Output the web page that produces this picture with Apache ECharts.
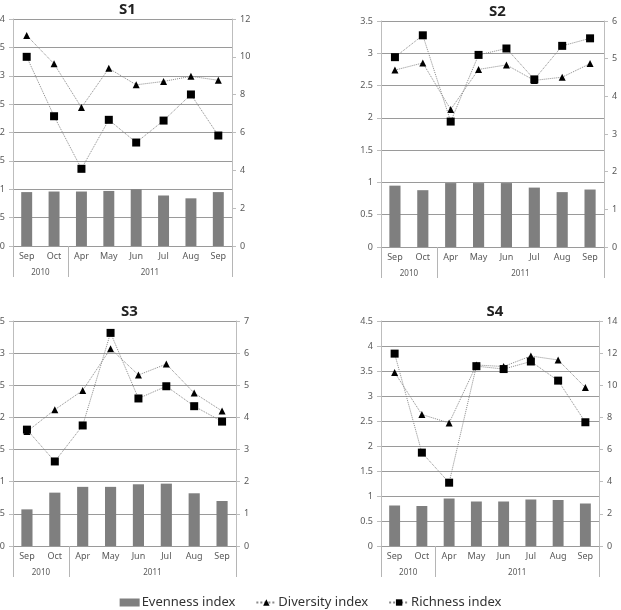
<!DOCTYPE html>
<html>
<head>
<meta charset="utf-8">
<script src="https://cdn.jsdelivr.net/npm/echarts@6/dist/echarts.min.js"></script>
<style>
  html, body { margin: 0; padding: 0; background: #fff; }
  #chart { width: 621px; height: 610px; }
</style>
</head>
<body>
<div id="chart"></div>
<script>
// categories
const months = ['Sep', 'Oct', 'Apr', 'May', 'Jun', 'Jul', 'Aug', 'Sep']
const years = ['2010', '2011']
const yearSpans = [2, 6]

// panels
const siteNames = ['S1', 'S2', 'S3', 'S4']

const evennessS1 = [0.95, 0.96, 0.96, 0.97, 1.0, 0.89, 0.84, 0.95]
const diversityS1 = [3.71, 3.21, 2.44, 3.13, 2.84, 2.90, 2.99, 2.92]
const richnessS1 = [10.0, 6.86, 4.08, 6.67, 5.47, 6.63, 8.01, 5.84]

const evennessS2 = [0.95, 0.88, 0.99, 0.99, 0.99, 0.92, 0.85, 0.89]
const diversityS2 = [2.74, 2.85, 2.13, 2.75, 2.82, 2.58, 2.63, 2.84]
const richnessS2 = [5.04, 5.62, 3.33, 5.10, 5.27, 4.45, 5.34, 5.54]

const evennessS3 = [0.57, 0.83, 0.92, 0.92, 0.96, 0.97, 0.82, 0.70]
const diversityS3 = [1.78, 2.12, 2.42, 3.07, 2.66, 2.83, 2.38, 2.10]
const richnessS3 = [3.62, 2.63, 3.75, 6.63, 4.59, 4.97, 4.35, 3.87]

const evennessS4 = [0.81, 0.80, 0.95, 0.89, 0.89, 0.93, 0.92, 0.85]
const diversityS4 = [3.47, 2.63, 2.46, 3.62, 3.59, 3.80, 3.72, 3.17]
const richnessS4 = [11.97, 5.81, 3.94, 11.19, 11.01, 11.48, 10.29, 7.70]

// axis ranges
const leftMax = [4, 3.5, 3.5, 4.5]
const rightMax = [12, 6, 7, 14]
const rightStep = [2, 1, 1, 2]

const evenness = [evennessS1, evennessS2, evennessS3, evennessS4]
const diversity = [diversityS1, diversityS2, diversityS3, diversityS4]
const richness = [richnessS1, richnessS2, richnessS3, richnessS4]

// year group boundaries and centres along the category axis
const yearBounds = [0]
const yearCenters = []
yearSpans.forEach(s => {
  const start = yearBounds[yearBounds.length - 1]
  yearCenters.push(start + s / 2)
  yearBounds.push(start + s)
})

const grids = [
  { left: 13, top: 19, width: 219, height: 227, outerBoundsMode: 'none' },
  { left: 381, top: 21, width: 223, height: 226, outerBoundsMode: 'none' },
  { left: 13, top: 321, width: 223, height: 225, outerBoundsMode: 'none' },
  { left: 381, top: 321, width: 218, height: 225, outerBoundsMode: 'none' }
]

const FONT = 'Noto Sans, Liberation Sans, sans-serif'
const LABEL = '#595959'

const xAxes = []
const yAxes = []
const series = []
const titles = []

siteNames.forEach((name, p) => {
  const g = grids[p]
  titles.push({
    text: name,
    left: g.left + g.width / 2,
    top: g.top - 22,
    textAlign: 'center',
    textStyle: { fontFamily: FONT, fontSize: 15, fontWeight: 'bold', color: '#222' }
  })

  xAxes.push({
    type: 'category',
    gridIndex: p,
    data: months,
    axisLine: { lineStyle: { color: '#9a9a9a' } },
    axisTick: { show: false },
    axisLabel: { color: LABEL, fontSize: 9, fontFamily: FONT, margin: 6, interval: 0 }
  })
  xAxes.push({
    type: 'value',
    gridIndex: p,
    position: 'bottom',
    min: 0,
    max: months.length,
    axisLine: { show: false },
    splitLine: { show: false },
    axisTick: { show: true, customValues: yearBounds, length: 31, lineStyle: { color: '#b5b5b5' } },
    axisLabel: {
      customValues: yearCenters,
      formatter: v => years[yearCenters.indexOf(v)],
      color: LABEL, fontSize: 8, fontFamily: FONT, margin: 23
    }
  })

  yAxes.push({
    type: 'value',
    gridIndex: p,
    position: 'left',
    min: 0,
    max: leftMax[p],
    interval: 0.5,
    axisLine: { show: true, lineStyle: { color: '#bdbdbd' } },
    axisTick: { show: true, length: 4, lineStyle: { color: '#bdbdbd' } },
    splitLine: { lineStyle: { color: '#9a9a9a', width: 1 } },
    axisLabel: { color: LABEL, fontSize: 9, fontFamily: FONT, margin: 8 }
  })
  yAxes.push({
    type: 'value',
    gridIndex: p,
    position: 'right',
    min: 0,
    max: rightMax[p],
    interval: rightStep[p],
    axisLine: { show: true, lineStyle: { color: '#bdbdbd' } },
    axisTick: { show: true, length: 4, lineStyle: { color: '#bdbdbd' } },
    splitLine: { show: false },
    axisLabel: { color: LABEL, fontSize: 9, fontFamily: FONT, margin: 8 }
  })

  series.push({
    name: 'Evenness index',
    type: 'bar',
    xAxisIndex: 2 * p,
    yAxisIndex: 2 * p,
    data: evenness[p],
    barWidth: '40%',
    itemStyle: { color: '#7f7f7f' },
    z: 2
  })
  series.push({
    name: 'Diversity index',
    type: 'line',
    xAxisIndex: 2 * p,
    yAxisIndex: 2 * p,
    data: diversity[p],
    symbol: 'triangle',
    symbolSize: 7,
    itemStyle: { color: '#000' },
    lineStyle: { color: '#8a8a8a', width: 1, type: 'dotted' },
    z: 3
  })
  series.push({
    name: 'Richness index',
    type: 'line',
    xAxisIndex: 2 * p,
    yAxisIndex: 2 * p + 1,
    data: richness[p],
    symbol: 'rect',
    symbolSize: 8,
    itemStyle: { color: '#000' },
    lineStyle: { color: '#8a8a8a', width: 1, type: 'dotted' },
    z: 4
  })
})

const chart = echarts.init(document.getElementById('chart'), null, { renderer: 'canvas' })
chart.setOption({
  animation: false,
  backgroundColor: '#fff',
  title: titles,
  legend: {
    top: 591,
    left: 'center',
    itemGap: 20,
    itemWidth: 20,
    itemHeight: 8,
    textStyle: { fontFamily: FONT, fontSize: 13, color: '#333', padding: [0, 0, 0, -3] },
    data: [
      { name: 'Evenness index', icon: 'rect' },
      { name: 'Diversity index' },
      { name: 'Richness index' }
    ]
  },
  grid: grids,
  xAxis: xAxes,
  yAxis: yAxes,
  series: series
})
</script>
</body>
</html>
